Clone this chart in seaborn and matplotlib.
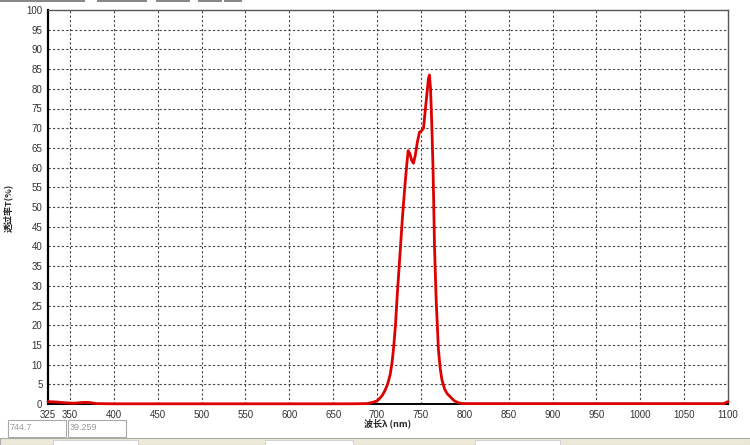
import matplotlib
matplotlib.use("Agg")
import matplotlib.pyplot as plt
import matplotlib.patches as mpatches
import seaborn as sns
import pandas as pd

# 光谱数据（读自图像）
wavelength = [325, 335, 345, 355, 365, 372, 380, 400, 500, 600, 670, 688, 695,
              700, 703, 706, 709, 712, 715, 717, 719, 721, 723, 726, 729, 732,
              734, 735.5, 737.5, 739.5, 741.5, 743.5, 746, 748.4, 750.5, 753,
              755, 757, 758.5, 759.7, 761, 762.5, 763.8, 764.6, 765.5, 767.4,
              770, 772, 774, 777, 780, 783.4, 788, 794, 800, 900, 1000, 1095, 1100]
transmittance = [0.6, 0.5, 0.3, 0.2, 0.4, 0.4, 0.1, 0.05, 0.05, 0.05, 0.05, 0.1, 0.4,
                 0.8, 1.4, 2.2, 3.4, 5.0, 7.5, 10.3, 14.5, 20.0, 27.5, 37.5, 47.5, 56,
                 61, 64.3, 63.5, 61.8, 61.1, 63, 66.5, 69, 69.3, 70,
                 74.6, 79, 82.5, 83.5, 80, 70.4, 60, 51, 40, 26.4,
                 13.7, 9, 6.1, 3.8, 2.6, 1.85, 0.8, 0.2, 0.1, 0.1, 0.1, 0.1, 0.6]

x_ticks = [325, 350, 400, 450, 500, 550, 600, 650, 700, 750, 800, 850,
           900, 950, 1000, 1050, 1100]
y_ticks = list(range(0, 101, 5))

df = pd.DataFrame({"wl": wavelength, "T": transmittance})

sns.set_style("white")
plt.rcParams["font.family"] = ["Liberation Sans", "DejaVu Sans"]
cjk = ["Noto Sans CJK SC", "DejaVu Sans"]

fig = plt.figure(figsize=(7.5, 4.45), dpi=100)
fig.patch.set_facecolor("white")
ax = fig.add_axes([48 / 750, 1 - 404 / 445, 680 / 750, 394 / 445])

sns.lineplot(data=df, x="wl", y="T", ax=ax, color="#dd0000", linewidth=2.0,
             zorder=5, clip_on=False)

ax.set_xlim(325, 1100)
ax.set_ylim(0, 100)
ax.set_xticks(x_ticks)
ax.set_yticks(y_ticks)
ax.tick_params(axis="both", labelsize=7, colors="#333333", length=2, pad=2)

# 虚线网格
for xv in x_ticks[1:-1]:
    ax.axvline(xv, color="#444444", linestyle=(0, (2, 2)), linewidth=0.8, zorder=1)
for yv in y_ticks[1:-1]:
    ax.axhline(yv, color="#444444", linestyle=(0, (2, 2)), linewidth=0.8, zorder=1)

for side in ["top", "right"]:
    ax.spines[side].set_color("#555555")
    ax.spines[side].set_linewidth(1.0)
ax.spines["left"].set_color("black")
ax.spines["left"].set_linewidth(1.6)
ax.spines["bottom"].set_color("black")
ax.spines["bottom"].set_linewidth(1.4)

ax.set_xlabel("")
ax.set_ylabel("")
fig.text(388 / 750, 1 - 423 / 445, "波长λ (nm)", family=cjk, fontsize=6.5,
         fontweight="bold", ha="center", va="center")
fig.text(8 / 750, 1 - 208 / 445, "透过率T(%)", family=cjk, fontsize=6.5,
         fontweight="bold", rotation=90, ha="center", va="center")

# 窗口顶部的灰色边条
for x0, w in [(0, 85), (97, 50), (156, 34), (198, 24), (224, 18)]:
    fig.patches.append(mpatches.Rectangle((x0 / 750, 1 - 1.5 / 445), w / 750, 1.5 / 445,
                                          transform=fig.transFigure, facecolor="#888888",
                                          edgecolor="none"))

# 窗口底部的坐标读数框
for x0, w, txt in [(8, 58, "744.7"), (68, 58, "39.259")]:
    fig.patches.append(mpatches.Rectangle((x0 / 750, 1 - 437 / 445), w / 750, 17 / 445,
                                          transform=fig.transFigure, facecolor="white",
                                          edgecolor="#aaaaaa", linewidth=0.8))
    fig.text((x0 + 2) / 750, 1 - 428 / 445, txt, fontsize=6.5, color="#999999",
             ha="left", va="center")

# 底部面板
fig.patches.append(mpatches.Rectangle((0, 0), 1, 7 / 445, transform=fig.transFigure,
                                      facecolor="#ece9d8", edgecolor="#aaaaaa",
                                      linewidth=0.8))
for x0, w in [(53, 85), (265, 88), (475, 85)]:
    fig.patches.append(mpatches.Rectangle((x0 / 750, 0), w / 750, 5 / 445,
                                          transform=fig.transFigure, facecolor="white",
                                          edgecolor="#cccccc", linewidth=0.6))

fig.savefig("out.png", dpi=100)
plt.close(fig)
